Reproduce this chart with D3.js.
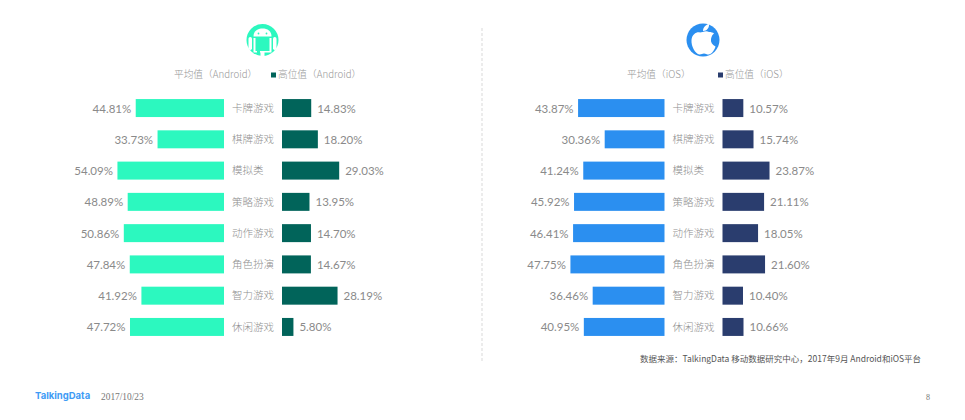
<!DOCTYPE html>
<html>
<head>
<meta charset="utf-8">
<script src="https://cdn.jsdelivr.net/npm/d3@7"></script>
<style>
  html, body { margin: 0; padding: 0; background: #fff; }
  svg { display: block; }
  text { font-family: "Noto Sans CJK SC", sans-serif; }
</style>
</head>
<body>
<div id="svg"></div>
<script>
const categoriesAndroid = ["卡牌游戏", "棋牌游戏", "模拟类", "策略游戏", "动作游戏", "角色扮演", "智力游戏", "休闲游戏"];
const categoriesIos = ["卡牌游戏", "棋牌游戏", "模拟类", "策略游戏", "动作游戏", "角色扮演", "智力游戏", "休闲游戏"];
const androidMean = [44.81, 33.73, 54.09, 48.89, 50.86, 47.84, 41.92, 47.72];
const androidHigh = [14.83, 18.20, 29.03, 13.95, 14.70, 14.67, 28.19, 5.80];
const iosMean = [43.87, 30.36, 41.24, 45.92, 46.41, 47.75, 36.46, 40.95];
const iosHigh = [10.57, 15.74, 23.87, 21.11, 18.05, 21.60, 10.40, 10.66];

const width = 965, height = 420;
const numFont = "Lato, sans-serif";
const gray = "#8a8a8a";

const svg = d3.select("#svg").append("svg")
    .attr("width", width)
    .attr("height", height);

const y = d3.scaleBand()
    .domain(d3.range(8))
    .range([92.5, 342.5])
    .paddingInner(0.425)
    .paddingOuter(0.21);

// one side of the page: mirrored bars around the category labels
function drawPanel(cats, mean, high, opt) {
    const xMean = d3.scaleLinear().domain([0, 60]).range([opt.meanEnd, opt.meanEnd - 118.2]);
    const xHigh = d3.scaleLinear().domain([0, 60]).range([opt.highStart, opt.highStart + 118.2]);

    const g = svg.append("g");

    g.selectAll("rect.mean").data(mean).join("rect")
        .attr("class", "mean")
        .attr("x", d => xMean(d))
        .attr("y", (d, i) => y(i))
        .attr("width", d => xMean(0) - xMean(d))
        .attr("height", y.bandwidth())
        .attr("fill", opt.meanColor);

    g.selectAll("rect.high").data(high).join("rect")
        .attr("class", "high")
        .attr("x", xHigh(0))
        .attr("y", (d, i) => y(i))
        .attr("width", d => xHigh(d) - xHigh(0))
        .attr("height", y.bandwidth())
        .attr("fill", opt.highColor);

    g.selectAll("text.meanLabel").data(mean).join("text")
        .attr("class", "meanLabel")
        .attr("x", d => xMean(d) - 4.5)
        .attr("y", (d, i) => y(i) + y.bandwidth() / 2 + 0.5)
        .attr("dy", "0.35em")
        .attr("text-anchor", "end")
        .attr("fill", gray)
        .style("font-family", numFont)
        .style("font-size", "11.5px")
        .text(d => d.toFixed(2) + "%");

    g.selectAll("text.highLabel").data(high).join("text")
        .attr("class", "highLabel")
        .attr("x", d => xHigh(d) + 6)
        .attr("y", (d, i) => y(i) + y.bandwidth() / 2 + 0.5)
        .attr("dy", "0.35em")
        .attr("fill", gray)
        .style("font-family", numFont)
        .style("font-size", "11.5px")
        .text(d => d.toFixed(2) + "%");

    g.selectAll("text.cat").data(cats).join("text")
        .attr("class", "cat")
        .attr("x", opt.meanEnd + 8)
        .attr("y", (d, i) => y(i) + y.bandwidth() / 2)
        .attr("dy", "0.35em")
        .attr("fill", "#8f8f8f")
        .style("font-size", "10.5px")
        .style("font-weight", 300)
        .text(d => d);

    // legend, the mean entry has no swatch in the original
    g.append("text").attr("x", opt.legend[0]).attr("y", 78)
        .attr("fill", "#969696").style("font-size", "9.7px").style("font-weight", 300).text(opt.meanName);
    g.append("rect").attr("x", opt.legend[1]).attr("y", 72.5)
        .attr("width", 5).attr("height", 5).attr("fill", opt.highColor);
    g.append("text").attr("x", opt.legend[1] + 7).attr("y", 78)
        .attr("fill", "#969696").style("font-size", "9.7px").style("font-weight", 300).text(opt.highName);
}

drawPanel(categoriesAndroid, androidMean, androidHigh, {
    meanEnd: 224, highStart: 282,
    meanColor: "#2cf8bf", highColor: "#01645a",
    meanName: "平均值（Android）", highName: "高位值（Android）",
    legend: [174, 271]
});

drawPanel(categoriesIos, iosMean, iosHigh, {
    meanEnd: 664.5, highStart: 722.5,
    meanColor: "#2b8ff0", highColor: "#2a3d6e",
    meanName: "平均值（iOS）", highName: "高位值（iOS）",
    legend: [627, 718]
});

// divider
svg.append("line")
    .attr("x1", 482).attr("x2", 482)
    .attr("y1", 28).attr("y2", 362)
    .attr("stroke", "#d9d9d9")
    .attr("stroke-dasharray", "3,2");

// android icon
const android = svg.append("g").attr("transform", "translate(262.5,40)");
android.append("circle").attr("r", 16).attr("fill", "#2cf8bf");
android.append("path").attr("fill", "#fff")
    .attr("d", "M-9,-3.5 C-9,-9 -5,-11.5 0,-11.5 C5,-11.5 9,-9 9,-3.5 Z");
android.append("rect").attr("x", -9).attr("y", -2).attr("width", 18).attr("height", 14.5).attr("fill", "#fff");
android.append("rect").attr("x", -14).attr("y", -3).attr("width", 3.5).attr("height", 13).attr("rx", 1.7).attr("fill", "#fff");
android.append("rect").attr("x", 10.5).attr("y", -3).attr("width", 3.5).attr("height", 13).attr("rx", 1.7).attr("fill", "#fff");
android.append("rect").attr("x", -2).attr("y", 10).attr("width", 4).attr("height", 6).attr("fill", "#fff");
android.append("rect").attr("x", -7).attr("y", -2).attr("width", 14).attr("height", 13).attr("fill", "#2cf8bf");
android.append("rect").attr("x", -5.5).attr("y", 11).attr("width", 3).attr("height", 4).attr("fill", "#2cf8bf");
android.append("circle").attr("cx", -4).attr("cy", -6.5).attr("r", 0.9).attr("fill", "#2cf8bf");
android.append("circle").attr("cx", 4).attr("cy", -6.5).attr("r", 0.9).attr("fill", "#2cf8bf");

// apple icon
const apple = svg.append("g").attr("transform", "translate(703,40)");
apple.append("circle").attr("r", 16.5).attr("fill", "#2b8ff0");
apple.append("path").attr("fill", "#fff")
    .attr("d", "M6,-8 C3,-10 -1,-7.5 -3,-7.5 C-6,-8.5 -11,-6 -11.5,0 C-12,6 -8,14 -3.5,14.5 C-1,14.5 -1,13.5 1,13.5 C3,13.5 4,15 6,14.5 C9,14 12,9 12.5,6.5 C9,5 7.5,2 8,-1 C8.5,-4 10,-6 11,-6.5 C10,-7.5 8,-8 6,-8 Z");
apple.append("path").attr("fill", "#fff")
    .attr("d", "M0,-9 C0,-13 3,-15.5 6,-16 C6.5,-12.5 4,-9 0,-9 Z");

// footer
svg.append("text").attr("x", 640).attr("y", 361.5)
    .attr("fill", "#555").style("font-size", "8.5px")
    .text("数据来源：TalkingData 移动数据研究中心，2017年9月 Android和iOS平台");
svg.append("text").attr("x", 35).attr("y", 399)
    .attr("fill", "#3f9bf5").style("font-family", "Inter, sans-serif")
    .style("font-size", "9.5px").style("font-weight", 700)
    .text("TalkingData");
svg.append("text").attr("x", 101).attr("y", 400)
    .attr("fill", "#777").style("font-family", "'Liberation Serif', serif")
    .style("font-size", "9.4px")
    .text("2017/10/23");
svg.append("text").attr("x", 926).attr("y", 399.5)
    .attr("fill", "#777").style("font-family", "'Liberation Serif', serif")
    .style("font-size", "8px")
    .text("8");
</script>
</body>
</html>
